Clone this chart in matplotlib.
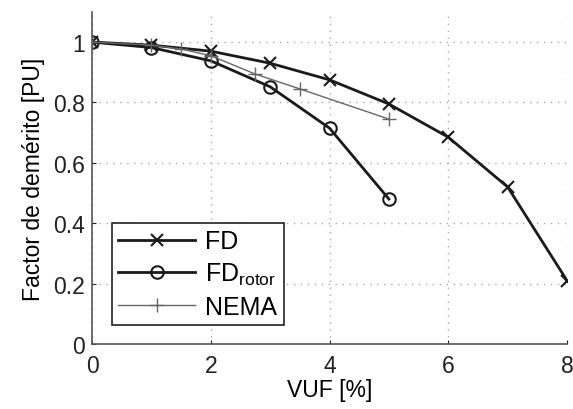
import matplotlib
matplotlib.use("Agg")
import matplotlib.pyplot as plt

plt.rcParams['font.family'] = ['Liberation Sans', 'DejaVu Sans']

# datos
vuf_fd = [0, 1, 2, 3, 4, 5, 6, 7, 8]
fd = [1.0, 0.99, 0.97, 0.93, 0.875, 0.795, 0.685, 0.52, 0.21]

vuf_rotor = [0, 1, 2, 3, 4, 5]
fd_rotor = [1.0, 0.982, 0.938, 0.852, 0.715, 0.48]

vuf_nema = [0, 1, 1.5, 2, 2.75, 3.5, 5]
nema = [1.0, 0.99, 0.977, 0.955, 0.894, 0.845, 0.745]

xticks = [0, 2, 4, 6, 8]
yticks = [0, 0.2, 0.4, 0.6, 0.8, 1]
yticklabels = ['0', '0.2', '0.4', '0.6', '0.8', '1']

fig = plt.figure(figsize=(5.73, 4.1), dpi=100)
ax = fig.add_axes([0.1606, 0.1585, 0.829, 0.81])

ax.plot(vuf_fd, fd, color='#1a1a1a', lw=2, marker='x', ms=9, mew=1.5, label='FD')
ax.plot(vuf_rotor, fd_rotor, color='#1a1a1a', lw=2, marker='o', ms=9,
        mfc='none', mew=1.5, label='FD$_{\\mathregular{rotor}}$')
ax.plot(vuf_nema, nema, color='#666666', lw=1, marker='+', ms=10, mew=1, label='NEMA')

ax.set_xlim(0, 8)
ax.set_ylim(0, 1.1)
ax.set_xticks(xticks)
ax.set_yticks(yticks)
ax.set_yticklabels(yticklabels)
ax.tick_params(direction='in', length=3, labelsize=16.5, colors='#222222')
ax.tick_params(axis='x', pad=7)
ax.tick_params(axis='y', pad=5)
ax.grid(True, linestyle=(0, (1, 4)), color='#aaaaaa', lw=1.0)

ax.spines['top'].set_visible(False)
ax.spines['right'].set_visible(False)
ax.spines['left'].set_color('#555555')
ax.spines['bottom'].set_color('#555555')
ax.spines['left'].set_linewidth(1.2)
ax.spines['bottom'].set_linewidth(1.2)

ax.set_xlabel('VUF [%]', fontsize=16.5, labelpad=1)
ax.set_ylabel('Factor de demérito [PU]', fontsize=16.5, labelpad=6)

leg = ax.legend(loc='lower left', fontsize=18, fancybox=False, framealpha=1,
                edgecolor='#222222', handlelength=3.1, handletextpad=0.4,
                borderpad=0.25, labelspacing=0.3, bbox_to_anchor=(0.015, 0.02))
leg.get_frame().set_linewidth(1.2)

fig.savefig('out.png', dpi=100)
